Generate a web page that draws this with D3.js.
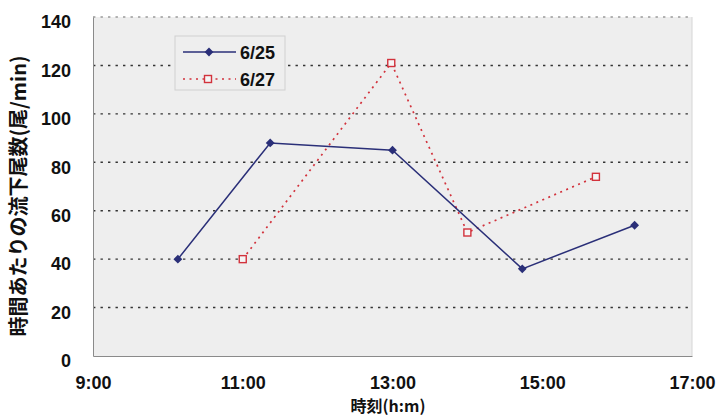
<!DOCTYPE html>
<html><head><meta charset="utf-8">
<script src="https://cdn.jsdelivr.net/npm/d3@7"></script>
<style>
body{margin:0;background:#fff;}
svg{display:block;}
</style></head><body>
<svg id="c" width="718" height="418"></svg>
<script>
// Data (time as "h:mm", value in 尾/min)
const series1Name = "6/25";
const series1Times = ["10:08", "11:22", "13:00", "14:44", "16:14"];
const series1Values = [40, 88, 85, 36, 54];
const series2Name = "6/27";
const series2Times = ["11:00", "12:59", "14:00", "15:43"];
const series2Values = [40, 121, 51, 74];
const xTickLabels = ["9:00", "11:00", "13:00", "15:00", "17:00"];
const yTicks = [0, 20, 40, 60, 80, 100, 120, 140];
const xTitle = "時刻(h:m)";
const yTitle = "時間あたりの流下尾数(尾/min)";

const toH = s => { const [h, m] = s.split(":").map(Number); return h + m / 60; };

const svg = d3.select("#c");
const L = 93, R = 692, T = 17, B = 356;
const x = d3.scaleLinear().domain([9, 17]).range([L, R]);
const y = d3.scaleLinear().domain([0, 140]).range([B, T]);
const font = "'Liberation Sans', Arial, sans-serif";
const cjk = "'Noto Sans CJK JP', 'Liberation Sans', sans-serif";

// plot background
svg.append("rect").attr("x", L).attr("y", T).attr("width", R - L).attr("height", B - T)
  .attr("fill", "#eeeeee");
// right border
svg.append("line").attr("x1", R).attr("x2", R).attr("y1", T).attr("y2", B)
  .attr("stroke", "#d6d6d6").attr("stroke-width", 1);

// gridlines
svg.append("g").selectAll("line").data(yTicks.filter(d => d > 0)).join("line")
  .attr("x1", L).attr("x2", R)
  .attr("y1", d => y(d)).attr("y2", d => y(d))
  .attr("stroke", d => d === 140 ? "#9a9a9a" : "#333")
  .attr("stroke-width", 1.4)
  .attr("stroke-dasharray", "2.4,5.1");

// axes
const yAxis = d3.axisLeft(y).tickValues(yTicks).tickSize(0).tickPadding(22).tickFormat(d3.format("d"));
const gy = svg.append("g").attr("transform", `translate(${L},0)`).call(yAxis);
gy.select(".domain").attr("stroke", "#8a8a8a").attr("stroke-width", 1);
gy.selectAll("text").attr("font-family", font).attr("font-size", 18).attr("font-weight", "bold")
  .attr("fill", "#111").attr("dy", "0.6em");

const xAxis = d3.axisBottom(x).tickValues([9, 11, 13, 15, 17]).tickSize(0).tickPadding(20)
  .tickFormat((d, i) => xTickLabels[i]);
const gx = svg.append("g").attr("transform", `translate(0,${B})`).call(xAxis);
gx.select(".domain").attr("stroke", "#8a8a8a").attr("stroke-width", 1);
gx.selectAll("text").attr("font-family", font).attr("font-size", 18).attr("font-weight", "bold")
  .attr("fill", "#111");

// titles
svg.append("text").attr("x", 388).attr("y", 412).attr("text-anchor", "middle")
  .attr("font-family", cjk).attr("font-size", 16).attr("font-weight", "bold").attr("fill", "#111")
  .text(xTitle);
svg.append("text").attr("transform", `translate(26,196) rotate(-90)`)
  .attr("text-anchor", "middle").attr("font-family", cjk).attr("font-size", 20).attr("font-weight", "bold")
  .attr("fill", "#111").text(yTitle);

const blue = "#2a2f78", red = "#d2323c";
const s1 = series1Times.map((t, i) => [toH(t), series1Values[i]]);
const s2 = series2Times.map((t, i) => [toH(t), series2Values[i]]);
const line = d3.line().x(d => x(d[0])).y(d => y(d[1]));

svg.append("path").attr("d", line(s2)).attr("fill", "none").attr("stroke", red)
  .attr("stroke-width", 1.7).attr("stroke-dasharray", "2,4.5");
svg.append("path").attr("d", line(s1)).attr("fill", "none").attr("stroke", blue)
  .attr("stroke-width", 1.5);

const diamond = d3.symbol().type(d3.symbolDiamond2 || d3.symbolDiamond).size(50);
svg.append("g").selectAll("path").data(s1).join("path")
  .attr("d", diamond).attr("transform", d => `translate(${x(d[0])},${y(d[1])})`).attr("fill", blue);
svg.append("g").selectAll("rect").data(s2).join("rect")
  .attr("x", d => x(d[0]) - 3.5).attr("y", d => y(d[1]) - 3.5).attr("width", 7).attr("height", 7)
  .attr("fill", "#f5f5f5").attr("stroke", red).attr("stroke-width", 1.4);

// legend
const lg = svg.append("g");
lg.append("rect").attr("x", 175).attr("y", 36).attr("width", 110).attr("height", 54)
  .attr("fill", "#eeeeee").attr("stroke", "#d0d0d0").attr("stroke-width", 1);
lg.append("line").attr("x1", 183).attr("x2", 236).attr("y1", 52).attr("y2", 52)
  .attr("stroke", blue).attr("stroke-width", 1.5);
lg.append("path").attr("d", diamond).attr("transform", "translate(209,52)").attr("fill", blue);
lg.append("line").attr("x1", 183).attr("x2", 236).attr("y1", 79).attr("y2", 79)
  .attr("stroke", red).attr("stroke-width", 1.7).attr("stroke-dasharray", "2,4.5");
lg.append("rect").attr("x", 204.5).attr("y", 75.5).attr("width", 7).attr("height", 7)
  .attr("fill", "#f5f5f5").attr("stroke", red).attr("stroke-width", 1.4);
lg.append("text").attr("x", 240).attr("y", 58.5).attr("font-family", font).attr("font-size", 18)
  .attr("font-weight", "bold").attr("fill", "#111").text(series1Name);
lg.append("text").attr("x", 240).attr("y", 86).attr("font-family", font).attr("font-size", 18)
  .attr("font-weight", "bold").attr("fill", "#111").text(series2Name);
</script>
</body></html>
